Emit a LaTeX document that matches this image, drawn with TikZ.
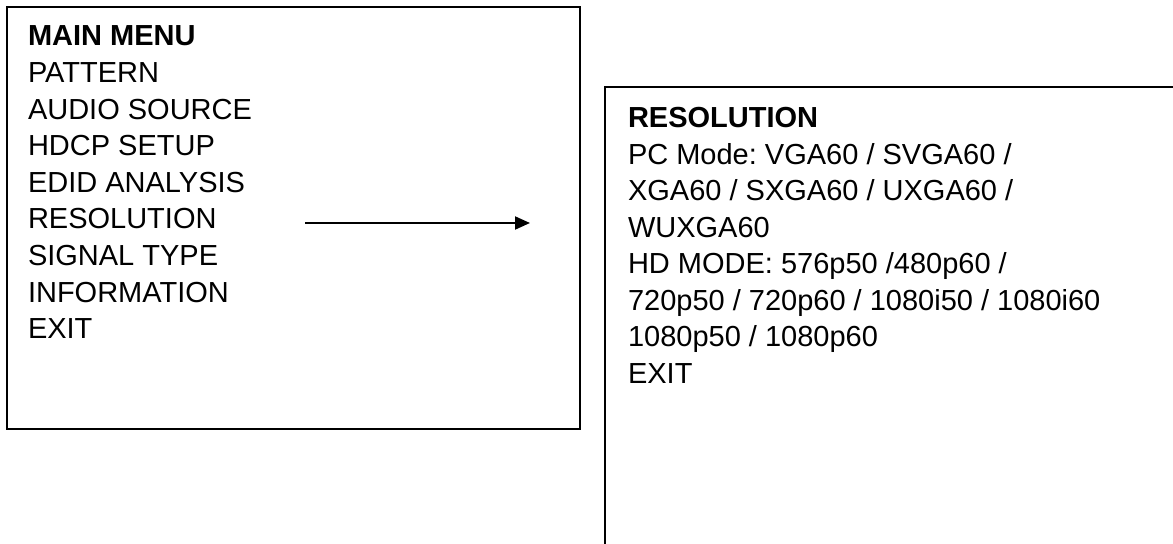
\documentclass[tikz,border=0pt]{standalone}
\usepackage{fontspec}
\setmainfont{Liberation Sans}
\usetikzlibrary{arrows.meta}
\frenchspacing
\begin{document}
\begin{tikzpicture}[x=0.5pt, y=-0.5pt, line width=1pt,
		every node/.style={font=\fontsize{14.5pt}{18pt}\selectfont, inner sep=0pt, anchor=base west},
		title/.style={font=\fontsize{14.5pt}{18pt}\selectfont\bfseries}]
		
		\useasboundingbox (0,0) rectangle (1173,544);
		
		% Hauptmenue
		\draw (7,7) rectangle (580,429);
		\node[title] (mtitle) at (27,46) {MAIN MENU};
		\node (mpattern) at (27,82.6) {PATTERN};
		\node (maudio) at (27,119.2) {AUDIO SOURCE};
		\node (mhdcp) at (27,155.8) {HDCP SETUP};
		\node (medid) at (27,192.4) {EDID ANALYSIS};
		\node (mres) at (27,229) {RESOLUTION};
		\node (msignal) at (27,265.6) {SIGNAL TYPE};
		\node (minfo) at (27,302.2) {INFORMATION};
		\node (mexit) at (27,338.8) {EXIT};
		
		% Pfeil
		\coordinate (arrfrom) at (305,223);
		\coordinate (arrto) at (530,223);
		\draw[-{Triangle[length=7.5pt,width=6.5pt]}] (arrfrom) -- (arrto);
		
		% Untermenue Resolution
		\draw (605,87) rectangle (1185,556);
		\node[title] (rtitle) at (627,128) {RESOLUTION};
		\node (rpc) at (627,164.5) {PC Mode: VGA60 / SVGA60 /};
		\node (rpc2) at (627,201) {XGA60 / SXGA60 / UXGA60 /};
		\node (rpc3) at (627,237.5) {WUXGA60};
		\node (rhd) at (627,274) {HD MODE: 576p50 /480p60 /};
		\node (rhd2) at (627,310.5) {720p50 / 720p60 / 1080i50 / 1080i60};
		\node (rhd3) at (627,347) {1080p50 / 1080p60};
		\node (rexit) at (627,383.5) {EXIT};
		
	\end{tikzpicture}
\end{document}
